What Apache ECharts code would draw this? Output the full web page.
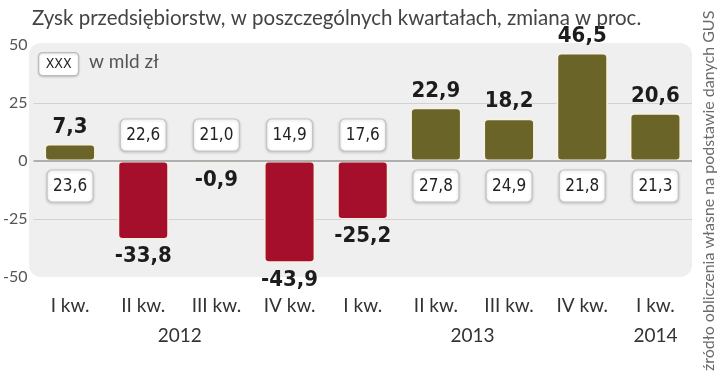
<!DOCTYPE html>
<html>
<head>
<meta charset="utf-8">
<script src="https://cdn.jsdelivr.net/npm/echarts@6/dist/echarts.min.js"></script>
<style>html,body{margin:0;padding:0;background:#fff;}#c{width:720px;height:372px;}</style>
</head>
<body>
<div id="c"></div>
<script>
// Data
var quarters = ['I kw.', 'II kw.', 'III kw.', 'IV kw.', 'I kw.', 'II kw.', 'III kw.', 'IV kw.', 'I kw.'];
var changePct = [7.3, -33.8, -0.9, -43.9, -25.2, 22.9, 18.2, 46.5, 20.6];
var profitBn = [23.6, 22.6, 21.0, 14.9, 17.6, 27.8, 24.9, 21.8, 21.3];
var years = ['2012', '2013', '2014'];
var yearFirstIdx = [0, 4, 8];
var yearLastIdx = [3, 7, 8];
var yTicks = [-50, -25, 0, 25, 50];

var TXT = 'Lato, "Open Sans", sans-serif';
var COND = '"DejaVu Sans Condensed", "Liberation Sans Narrow", sans-serif';
var OLIVE = '#6a6428';
var RED = '#a60f2c';

function fmt(v) { return v.toFixed(1).replace('.', ','); }

var yearCenters = years.map(function (y, i) { return (yearFirstIdx[i] + yearLastIdx[i]) / 2; });

var chart = echarts.init(document.getElementById('c'), null, { renderer: 'canvas' });

var grid = { left: 29, right: 28, top: 45, bottom: 95 };

chart.setOption({
  animation: false,
  backgroundColor: '#fff',
  title: {
    text: 'Zysk przedsiębiorstw, w poszczególnych kwartałach, zmiana w proc.',
    left: 27, top: 3,
    textStyle: { fontFamily: TXT, fontWeight: 'normal', fontSize: 20.5, color: '#444' }
  },
  graphic: [
    {
      type: 'rect', z: -10, left: 29, top: 43,
      shape: { width: 663, height: 234, r: 12 },
      style: { fill: '#efefef' }, silent: true
    },
    {
      type: 'group', left: 38, top: 52, z: 10,
      children: [
        { type: 'rect', shape: { x: 0, y: 0, width: 40, height: 23, r: 4 },
          style: { fill: '#fff', stroke: '#bdbdbd', lineWidth: 1.2, shadowBlur: 2, shadowColor: 'rgba(0,0,0,0.15)', shadowOffsetY: 1 } },
        { type: 'text', x: 20, y: 12,
          style: { text: 'XXX', align: 'center', verticalAlign: 'middle', font: '14px ' + COND, fill: '#222' } }
      ]
    },
    {
      type: 'text', left: 89, top: 52, z: 10,
      style: { text: 'w mld zł', font: '19px ' + TXT, fill: '#555' }
    },
    {
      type: 'text', z: 10, x: 717, y: 371, rotation: Math.PI / 2,
      style: { text: 'źródło obliczenia własne na podstawie danych GUS', font: '16px ' + TXT, fill: '#6a6a6a', align: 'left', verticalAlign: 'bottom' }
    }
  ],
  grid: grid,
  xAxis: [
    {
      type: 'category', data: quarters,
      axisLine: { show: false }, axisTick: { show: false },
      axisLabel: { margin: 19, fontFamily: TXT, fontSize: 19, color: '#333' },
      splitLine: { show: false }
    },
    {
      type: 'value', min: -0.5, max: 8.5, position: 'bottom',
      axisLine: { show: false }, axisTick: { show: false }, splitLine: { show: false },
      axisLabel: {
        margin: 49, fontFamily: TXT, fontSize: 19, color: '#333',
        customValues: yearCenters,
        formatter: function (v) {
          for (var i = 0; i < yearCenters.length; i++) if (Math.abs(yearCenters[i] - v) < 1e-6) return years[i];
          return '';
        }
      }
    }
  ],
  yAxis: {
    type: 'value', min: yTicks[0], max: yTicks[yTicks.length - 1], interval: 25,
    axisLine: { show: false }, axisTick: { show: false },
    axisLabel: { margin: 6, fontFamily: TXT, fontSize: 16, color: '#555' },
    splitLine: { show: true, lineStyle: { color: ['transparent', '#d2d2d2', 'transparent', '#d2d2d2', 'transparent'], width: 1 } }
  },
  series: [
    {
      type: 'bar', xAxisIndex: 0, barWidth: 51, z: 3,
      data: changePct.map(function (v) {
        return { value: v, itemStyle: { color: v >= 0 ? OLIVE : RED } };
      }),
      itemStyle: { borderColor: '#f7f2df', borderWidth: 1.5, borderRadius: 4 },
      label: {
        show: true, position: 'outside', distance: 6,
        fontFamily: COND, fontWeight: 'bold', fontSize: 22, color: '#1c1c1c',
        formatter: function (p) { return fmt(p.value); }
      },
      markLine: {
        silent: true, symbol: 'none', label: { show: false },
        lineStyle: { color: '#9a9a9a', width: 1.5, type: 'solid' },
        data: [{ yAxis: 0 }]
      }
    },
    {
      type: 'custom', xAxisIndex: 0, z: 5,
      encode: { x: 0, y: 1 },
      data: changePct.map(function (v, i) { return [i, v, profitBn[i]]; }),
      renderItem: function (params, api) {
        var idx = api.value(0), v = api.value(1), b = api.value(2);
        var p = api.coord([idx, 0]);
        var cy = p[1] + (v >= 0 ? 25 : -26);
        var cx = p[0];
        return {
          type: 'group',
          children: [
            { type: 'rect', shape: { x: cx - 23, y: cy - 16, width: 46, height: 32, r: 5 },
              style: { fill: '#fff', stroke: '#c4c4c4', lineWidth: 1.2, shadowBlur: 3, shadowColor: 'rgba(0,0,0,0.18)', shadowOffsetY: 1 } },
            { type: 'text', x: cx, y: cy + 1,
              style: { text: fmt(b), align: 'center', verticalAlign: 'middle', font: '17px ' + COND, fill: '#222' } }
          ]
        };
      }
    }
  ]
});
</script>
</body>
</html>
